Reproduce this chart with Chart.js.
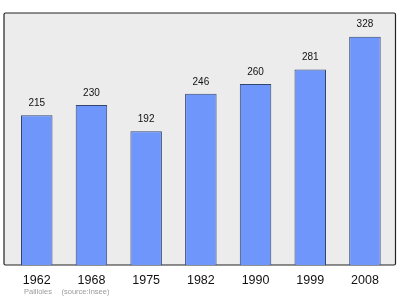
<!DOCTYPE html>
<html>
<head>
<meta charset="utf-8">
<script src="https://cdn.jsdelivr.net/npm/chart.js@4"></script>
<style>
  html, body { margin: 0; padding: 0; background: #fff; }
  #wrap { width: 400px; height: 299px; }
</style>
</head>
<body>
<div id="wrap"><canvas id="chart"></canvas></div>
<script>
const years = ["1962", "1968", "1975", "1982", "1990", "1999", "2008"];
const population = [215, 230, 192, 246, 260, 281, 328];
const place = "Pailloles";
const source = "(source:Insee)";

// grey frame behind the bars, a bit wider than the chart area
const framePlugin = {
  id: "frame",
  beforeDatasetsDraw(chart) {
    const { ctx, chartArea } = chart;
    const x = chartArea.left - 5.4, y = chartArea.top;
    const w = chartArea.right + 3.2 - x, h = chartArea.bottom - y;
    ctx.save();
    ctx.fillStyle = "#ececec";
    ctx.strokeStyle = "#222";
    ctx.lineWidth = 1.2;
    ctx.beginPath();
    ctx.roundRect(x, y, w, h, 1.5);
    ctx.fill();
    ctx.stroke();
    ctx.restore();
  },
};

// value above each bar + footer text
const labelPlugin = {
  id: "labels",
  afterDatasetsDraw(chart) {
    const { ctx } = chart;
    const meta = chart.getDatasetMeta(0);
    ctx.save();
    ctx.font = "10px 'Liberation Sans', Arial, sans-serif";
    ctx.fillStyle = "#111";
    ctx.textAlign = "center";
    ctx.textBaseline = "middle";
    meta.data.forEach((bar, i) => {
      ctx.fillText(population[i], bar.x, bar.y - 12);
    });
    ctx.font = "7.5px 'Liberation Sans', Arial, sans-serif";
    ctx.fillStyle = "#9a9a9a";
    ctx.textAlign = "left";
    ctx.fillText(place, 24, 292);
    ctx.fillText(source, 61.5, 292);
    ctx.restore();
  },
};

new Chart(document.getElementById("chart"), {
  type: "bar",
  data: {
    labels: years,
    datasets: [{
      data: population,
      backgroundColor: "#6f97fb",
      borderColor: "#34466e",
      borderWidth: 1,
      categoryPercentage: 1,
      barPercentage: 0.576,
    }],
  },
  options: {
    responsive: true,
    maintainAspectRatio: false,
    animation: false,
    layout: { padding: { left: 9.4, right: 7.7, top: 13, bottom: 11 } },
    plugins: {
      legend: { display: false },
      tooltip: { enabled: false },
    },
    scales: {
      x: {
        grid: { display: false },
        border: { display: false },
        ticks: {
          color: "#111",
          padding: 0,
          font: { family: "'Liberation Sans', Arial, sans-serif", size: 12.5 },
        },
      },
      y: { display: false, min: 0, max: 362 },
    },
  },
  plugins: [framePlugin, labelPlugin],
});
</script>
</body>
</html>
